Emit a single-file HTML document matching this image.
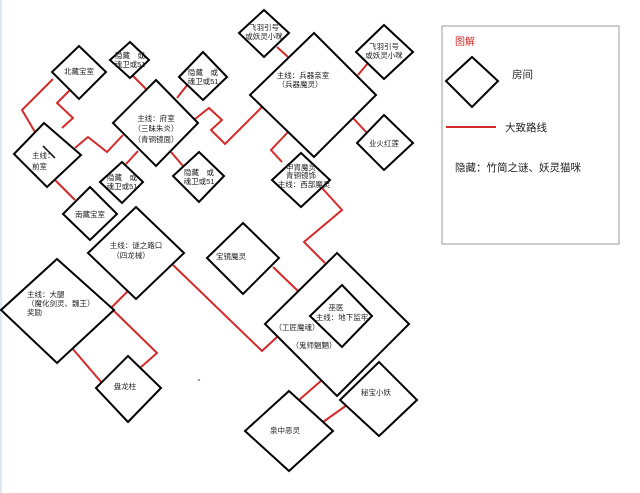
<!DOCTYPE html>
<html><head><meta charset="utf-8"><style>
html,body{margin:0;padding:0;background:#fff;}
svg{display:block;}
text{font-family:"Liberation Sans","Noto Sans CJK SC",sans-serif;font-size:7.5px;fill:#222;}
</style></head><body>
<svg width="640" height="493" viewBox="0 0 640 493" xmlns="http://www.w3.org/2000/svg">
<rect x="0" y="0" width="640" height="493" fill="#fff"/>
<rect x="0" y="0" width="2" height="493" fill="#dde8f2"/>
<g fill="none" stroke="#d42a2a" stroke-width="2" stroke-linejoin="miter">
<polyline points="53,79 22,110 35,132"/>
<polyline points="70,90 57,103 73,118 62,128"/>
<polyline points="75,148 88,137 107,152 123,135"/>
<polyline points="133,76 146,89"/>
<polyline points="188,84 177,98"/>
<polyline points="195,119 209,108 222,120 211,130 225,144 263,106"/>
<polyline points="138,151 126,164"/>
<polyline points="171,152 183,166"/>
<polyline points="55,180 75,200"/>
<polyline points="277,47 288,57"/>
<polyline points="368,63 358,75"/>
<polyline points="353,118 367,133"/>
<polyline points="288,132 271,150 282,162"/>
<polyline points="322,188 342,210 304,242 325,263"/>
<polyline points="273,267 298,291"/>
<polyline points="173,265 262,351 277,337"/>
<polyline points="128,291 112,307"/>
<polyline points="114,311 157,353 140,368"/>
<polyline points="72,348 102,383"/>
<polyline points="322,380 299,400"/>
<polyline points="323,422 347,405"/>
</g>
<g fill="#fff" stroke="#000" stroke-width="2">
<polygon points="79,46 106,72 79,99 52,72"/>
<polygon points="130,42 149,60 130,78 110,60"/>
<polygon points="203,52 227,77 203,100 179,77"/>
<polygon points="156,80 198,123 156,166 113,123"/>
<polygon points="44,123 81,155 47,187 14,154"/>
<polygon points="122,162 143,182 122,203 100,182"/>
<polygon points="199,152 224,176 199,202 173,176"/>
<polygon points="90,187 117,214 90,240 63,214"/>
<polygon points="264,10 289,33 264,57 239,33"/>
<polygon points="314,33 376,95 314,157 250,95"/>
<polygon points="384,25 413,52 384,79 356,52"/>
<polygon points="384,115 413,143 384,170 357,143"/>
<polygon points="301,153 330,180 301,207 272,180"/>
<polygon points="136,207 184,253 136,299 88,253"/>
<polygon points="57,259 114,310 57,363 1,310"/>
<polygon points="128,356 161,388 128,422 96,388"/>
<polygon points="243,223 279,258 243,294 207,258"/>
<polygon points="337,253 409,324 337,396 265,324"/>
<polygon points="342,285 372,316 342,347 310,316"/>
<polygon points="379,362 417,400 379,436 340,400"/>
<polygon points="289,391 333,431 289,471 245,431"/>
</g>
<line x1="43" y1="146" x2="55" y2="158" stroke="#000" stroke-width="1.5"/>
<g text-anchor="middle">
<text x="79" y="74">北藏宝室</text>
<text x="130" y="58">隐藏　或</text><text x="130" y="67">魂卫或51</text>
<text x="203" y="75">隐藏　或</text><text x="203" y="84">魂卫或51</text>
<text x="156" y="121">主线：府室</text><text x="156" y="131">（三昧朱炎）</text><text x="156" y="142">（青铜镜面）</text>
<text x="122" y="180">隐藏　或</text><text x="122" y="189">魂卫或51</text>
<text x="199" y="175">隐藏　或</text><text x="199" y="184">魂卫或51</text>
<text x="90" y="217">南藏宝室</text>
<text x="264" y="30">飞羽引号</text><text x="264" y="39">或妖灵小咪</text>
<text x="303" y="78">主线：兵器亲室</text><text x="300" y="87">（兵器魔灵）</text>
<text x="384" y="49">飞羽引号</text><text x="384" y="58">或妖灵小咪</text>
<text x="384" y="146">业火红莲</text>
<text x="301" y="170">甲胄魔灵</text><text x="301" y="178">青铜镜饰</text><text x="304" y="187">主线：西部魔灵</text>
<text x="136" y="248">主线：谜之路口</text><text x="131" y="258">（四龙械）</text>
<text x="125" y="389">盘龙柱</text>
<text x="231" y="259">宝镜魔灵</text>
<text x="336" y="310">巫医</text><text x="342" y="320">主线：地下监牢</text>
<text x="297" y="330">（工匠魔魂）</text>
<text x="314" y="348">（鬼师魍魉）</text>
<text x="376" y="395">秘宝小妖</text>
<text x="285" y="433">泉中恶灵</text>
</g>
<text x="27" y="297">主线：大腿</text>
<text x="27" y="306">（魔化剑灵、魏王）</text>
<text x="27" y="315">奖励</text>
<text x="32" y="158">主线：</text>
<text x="32" y="169">前室</text>
<rect x="198" y="379" width="2" height="2" fill="#c88"/>
<rect x="442" y="26" width="177" height="218" fill="#fff" stroke="#999" stroke-width="1"/>
<text x="455" y="45" style="font-size:10px;fill:#d42a2a">图解</text>
<polygon points="472,57 498,81 472,107 446,81" fill="#fff" stroke="#000" stroke-width="2"/>
<text x="512" y="78" style="font-size:10.5px">房间</text>
<line x1="446" y1="127" x2="496" y2="127" stroke="#d42a2a" stroke-width="2"/>
<text x="505" y="131" style="font-size:10.5px">大致路线</text>
<text x="455" y="171" style="font-size:10.5px">隐藏：竹简之谜、妖灵猫咪</text>
</svg>
</body></html>
